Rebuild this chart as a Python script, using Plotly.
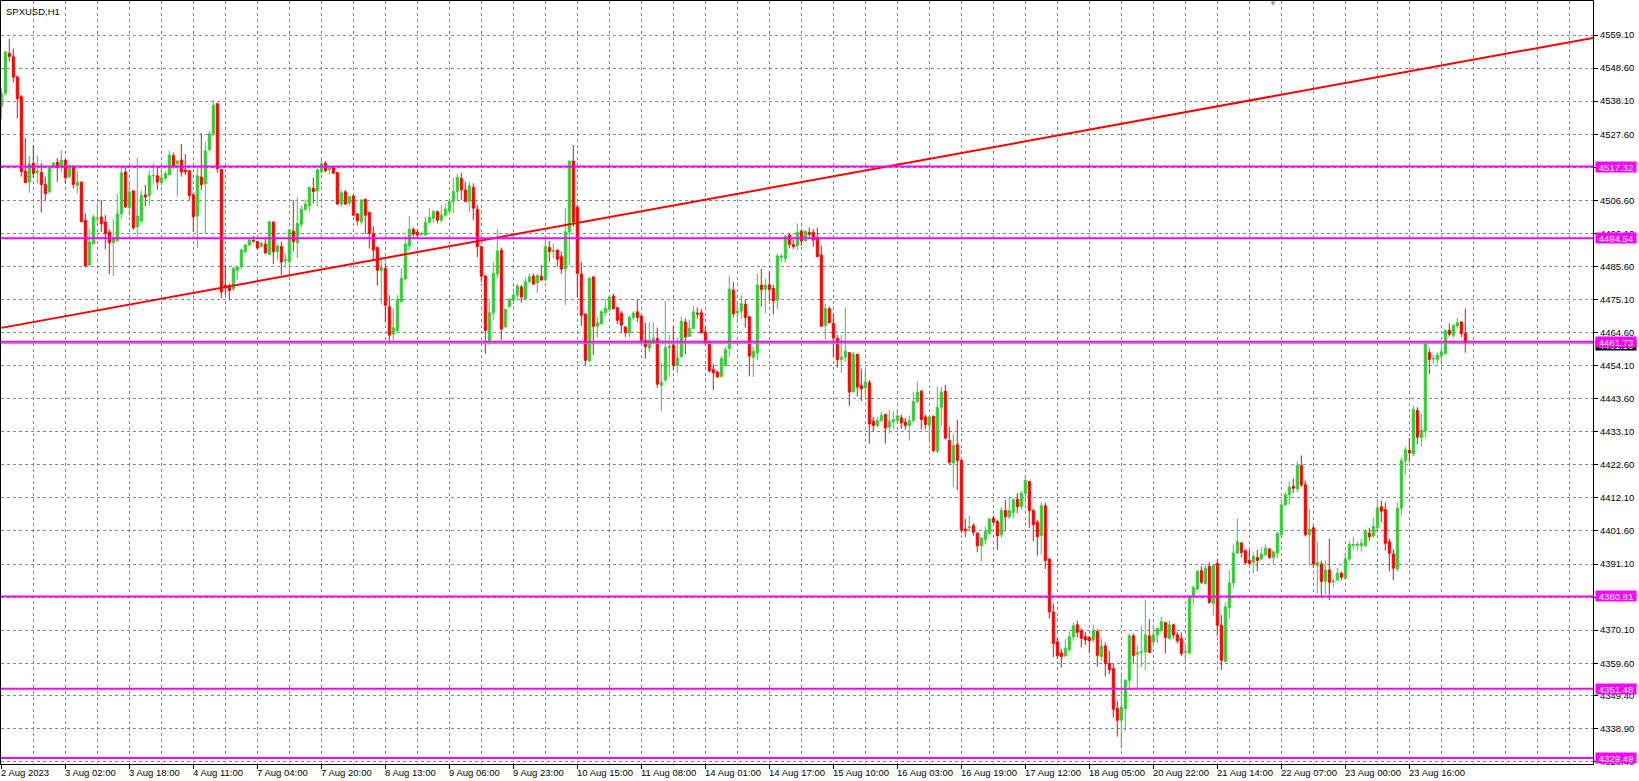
import plotly.graph_objects as go

# SPXUSD H1 bars (oldest first)
opens = [
    4536.4, 4540.6, 4553.2, 4552.2, 4545.8, 4539.5, 4515.9, 4512.4, 4518.4, 4515.4,
    4515.5, 4511.6, 4509.3, 4517.1, 4518.7, 4517.0, 4519.4, 4514.1, 4517.5, 4511.3,
    4512.4, 4500.3, 4486.0, 4492.8, 4500.8, 4501.3, 4499.7, 4496.5, 4493.1, 4493.8,
    4502.3, 4515.6, 4504.3, 4509.6, 4498.2, 4500.0, 4508.3, 4508.1, 4514.4, 4514.4,
    4512.2, 4513.5, 4514.7, 4520.8, 4518.2, 4519.4, 4516.2, 4516.0, 4508.4, 4501.7,
    4514.0, 4511.9, 4522.6, 4527.5, 4537.3, 4516.4, 4479.6, 4479.5, 4478.5, 4484.4,
    4485.5, 4490.3, 4492.4, 4493.9, 4493.5, 4491.9, 4492.7, 4489.5, 4499.7, 4490.3,
    4491.9, 4487.4, 4487.1, 4496.8, 4493.1, 4499.0, 4503.7, 4504.9, 4510.4, 4509.6,
    4515.7, 4518.4, 4516.3, 4517.1, 4515.4, 4505.4, 4509.3, 4505.7, 4508.0, 4502.3,
    4499.8, 4506.9, 4502.7, 4496.1, 4491.6, 4484.4, 4485.0, 4472.8, 4464.1, 4465.3,
    4474.4, 4481.6, 4492.1, 4497.4, 4496.4, 4495.8, 4495.6, 4499.6, 4500.9, 4503.0,
    4500.3, 4501.9, 4503.2, 4506.2, 4509.4, 4513.6, 4509.9, 4506.2, 4510.7, 4503.7,
    4491.9, 4482.6, 4461.9, 4470.9, 4483.2, 4490.8, 4466.4, 4472.8, 4474.9, 4476.5,
    4479.1, 4475.4, 4480.7, 4482.5, 4480.4, 4482.5, 4481.3, 4491.6, 4490.4, 4490.8,
    4488.7, 4484.8, 4496.6, 4519.1, 4504.4, 4483.2, 4470.5, 4455.6, 4482.3, 4466.6,
    4467.3, 4470.9, 4471.9, 4476.2, 4472.5, 4470.7, 4466.4, 4464.5, 4469.4, 4471.2,
    4469.8, 4462.2, 4459.7, 4461.6, 4462.7, 4447.8, 4449.5, 4459.9, 4460.6, 4454.2,
    4456.9, 4468.0, 4463.4, 4465.9, 4470.8, 4470.9, 4464.8, 4461.8, 4452.9, 4452.1,
    4450.7, 4454.2, 4459.5, 4478.1, 4470.9, 4471.4, 4473.6, 4469.6, 4456.8, 4458.1,
    4479.7, 4478.4, 4479.7, 4478.6, 4474.9, 4488.5, 4488.1, 4495.6, 4492.5, 4492.2,
    4496.8, 4493.7, 4496.4, 4496.4, 4494.8, 4489.2, 4466.9, 4472.2, 4467.5, 4462.7,
    4456.1, 4456.8, 4458.2, 4445.9, 4457.7, 4447.8, 4447.1, 4448.7, 4436.5, 4435.1,
    4436.7, 4438.6, 4434.6, 4436.4, 4436.7, 4437.5, 4436.2, 4435.1, 4436.7, 4442.7,
    4445.9, 4437.8, 4435.1, 4438.1, 4426.9, 4440.9, 4446.0, 4430.3, 4423.2, 4429.0,
    4424.0, 4402.2, 4402.6, 4403.3, 4400.9, 4396.9, 4398.8, 4400.8, 4405.7, 4404.6,
    4400.4, 4408.1, 4406.1, 4407.5, 4411.6, 4409.3, 4413.6, 4417.3, 4408.1, 4404.4,
    4400.1, 4409.6, 4392.7, 4375.9, 4366.4, 4362.9, 4361.9, 4363.8, 4368.0, 4371.8,
    4369.9, 4368.0, 4367.8, 4367.0, 4369.7, 4361.7, 4365.1, 4359.5, 4357.9, 4345.2,
    4341.5, 4345.2, 4354.2, 4368.3, 4362.5, 4363.1, 4363.2, 4368.3, 4366.4, 4368.6,
    4369.9, 4372.5, 4367.4, 4371.8, 4368.6, 4367.4, 4363.1, 4362.8, 4380.8, 4383.1,
    4389.0, 4384.9, 4390.3, 4378.6, 4391.3, 4371.7, 4360.1, 4377.3, 4385.1, 4394.6,
    4397.8, 4395.3, 4392.2, 4391.6, 4393.2, 4392.7, 4394.1, 4395.9, 4393.2, 4394.6,
    4400.4, 4409.9, 4413.2, 4415.8, 4415.0, 4422.4, 4416.3, 4400.4, 4402.6, 4390.6,
    4391.1, 4385.6, 4389.2, 4385.5, 4386.0, 4388.2, 4386.6, 4392.7, 4397.0, 4397.0,
    4396.9, 4396.9, 4400.9, 4400.1, 4402.6, 4409.3, 4408.4, 4398.2, 4394.3, 4389.5,
    4408.8, 4423.9, 4427.2, 4426.1, 4439.9, 4431.2, 4433.5, 4458.2, 4456.2, 4456.1,
    4457.2, 4457.9, 4465.3, 4463.8, 4466.7, 4468.0, 4464.3,
]
highs = [
    4542.2, 4553.9, 4557.9, 4554.8, 4546.2, 4540.1, 4526.4, 4520.7, 4524.2, 4520.7,
    4518.4, 4514.1, 4517.5, 4518.9, 4520.0, 4522.6, 4519.4, 4518.2, 4517.5, 4515.9,
    4512.4, 4502.5, 4497.5, 4502.1, 4505.9, 4506.7, 4501.9, 4497.4, 4500.6, 4508.6,
    4517.3, 4517.5, 4512.6, 4509.9, 4520.1, 4509.7, 4511.5, 4516.0, 4518.4, 4517.3,
    4517.0, 4516.0, 4522.3, 4521.8, 4519.4, 4524.5, 4521.3, 4516.0, 4509.0, 4517.6,
    4527.9, 4525.2, 4528.7, 4538.5, 4537.3, 4516.7, 4486.0, 4480.2, 4485.5, 4485.7,
    4491.3, 4492.7, 4494.3, 4495.3, 4493.7, 4493.5, 4494.7, 4500.1, 4499.9, 4492.7,
    4493.5, 4489.7, 4497.4, 4506.7, 4507.6, 4505.1, 4506.9, 4511.0, 4513.9, 4516.8,
    4520.0, 4519.1, 4517.3, 4517.5, 4515.4, 4509.9, 4509.9, 4508.0, 4508.3, 4502.5,
    4507.0, 4507.2, 4503.0, 4498.4, 4491.9, 4488.1, 4486.6, 4476.5, 4472.2, 4476.5,
    4485.0, 4495.4, 4501.6, 4498.0, 4497.4, 4496.6, 4501.4, 4504.1, 4503.5, 4503.3,
    4505.1, 4505.6, 4507.2, 4513.6, 4515.2, 4515.4, 4512.5, 4512.5, 4512.0, 4505.1,
    4491.9, 4482.8, 4474.7, 4487.1, 4497.5, 4491.6, 4472.2, 4475.6, 4477.9, 4480.0,
    4479.7, 4482.1, 4483.2, 4483.4, 4483.2, 4486.0, 4495.3, 4493.7, 4492.9, 4491.0,
    4490.3, 4504.1, 4519.1, 4524.2, 4504.8, 4487.1, 4470.6, 4482.3, 4482.3, 4469.6,
    4471.9, 4475.4, 4476.5, 4477.0, 4472.8, 4471.4, 4466.6, 4470.1, 4471.4, 4475.2,
    4470.1, 4467.7, 4467.8, 4467.8, 4466.2, 4455.1, 4474.6, 4463.8, 4466.6, 4463.0,
    4469.8, 4469.1, 4468.8, 4473.1, 4472.6, 4472.2, 4466.4, 4462.2, 4454.7, 4452.6,
    4457.1, 4460.0, 4482.6, 4480.7, 4474.4, 4476.5, 4475.1, 4469.8, 4460.0, 4483.2,
    4484.9, 4481.8, 4484.1, 4479.7, 4489.7, 4489.7, 4495.6, 4496.1, 4494.0, 4499.3,
    4497.2, 4496.9, 4498.0, 4497.5, 4498.0, 4492.1, 4473.8, 4472.8, 4470.6, 4463.8,
    4463.8, 4472.6, 4458.4, 4458.4, 4457.9, 4453.1, 4452.8, 4449.6, 4437.8, 4437.8,
    4439.4, 4438.6, 4440.1, 4439.6, 4440.2, 4438.6, 4437.5, 4438.3, 4445.9, 4449.1,
    4446.5, 4438.6, 4438.1, 4438.1, 4447.5, 4447.3, 4448.0, 4434.6, 4432.5, 4437.0,
    4424.0, 4405.4, 4406.5, 4404.0, 4401.2, 4399.6, 4403.0, 4405.7, 4406.5, 4405.1,
    4409.1, 4411.5, 4412.5, 4412.1, 4413.6, 4414.2, 4419.2, 4417.6, 4408.6, 4405.1,
    4410.7, 4410.7, 4392.9, 4378.6, 4367.8, 4364.1, 4367.2, 4369.6, 4372.5, 4373.1,
    4370.6, 4369.4, 4368.3, 4371.8, 4370.4, 4367.8, 4366.2, 4363.5, 4359.5, 4347.6,
    4355.9, 4354.5, 4369.0, 4369.0, 4365.4, 4371.5, 4379.8, 4373.6, 4371.8, 4370.9,
    4374.3, 4372.8, 4373.1, 4372.2, 4369.4, 4369.4, 4365.9, 4381.3, 4384.2, 4389.2,
    4390.6, 4391.1, 4391.6, 4391.1, 4392.7, 4375.0, 4378.9, 4389.2, 4397.3, 4405.7,
    4398.0, 4395.9, 4395.6, 4394.8, 4395.6, 4396.4, 4397.3, 4396.1, 4395.3, 4401.5,
    4411.3, 4413.9, 4417.4, 4418.3, 4423.7, 4425.6, 4417.6, 4408.6, 4403.3, 4398.3,
    4392.2, 4392.2, 4399.1, 4386.6, 4389.8, 4388.7, 4394.8, 4398.5, 4399.8, 4398.3,
    4399.1, 4402.2, 4402.6, 4405.9, 4411.5, 4411.3, 4410.7, 4399.1, 4395.9, 4410.7,
    4425.0, 4428.4, 4431.2, 4441.5, 4440.9, 4438.8, 4461.4, 4459.5, 4457.4, 4458.4,
    4460.3, 4465.6, 4467.5, 4467.3, 4469.3, 4468.2, 4472.2,
]
lows = [
    4532.4, 4539.8, 4550.7, 4544.0, 4532.6, 4514.1, 4512.2, 4509.0, 4513.6, 4512.0,
    4502.7, 4506.7, 4508.8, 4516.5, 4512.5, 4515.4, 4512.0, 4513.6, 4510.4, 4508.8,
    4499.8, 4485.3, 4486.0, 4492.8, 4499.3, 4496.6, 4491.1, 4483.2, 4482.6, 4493.5,
    4500.8, 4504.1, 4501.7, 4497.2, 4494.3, 4499.3, 4504.6, 4504.9, 4511.6, 4509.9,
    4511.3, 4513.0, 4514.7, 4516.6, 4507.8, 4514.1, 4514.7, 4506.7, 4496.6, 4491.5,
    4509.9, 4496.1, 4522.5, 4527.1, 4515.4, 4475.5, 4476.5, 4475.0, 4477.8, 4481.3,
    4484.6, 4489.7, 4492.1, 4493.1, 4490.8, 4491.7, 4489.5, 4489.2, 4486.3, 4487.6,
    4482.8, 4485.3, 4482.8, 4490.3, 4488.2, 4497.9, 4503.2, 4503.0, 4505.6, 4504.6,
    4515.2, 4515.5, 4514.9, 4515.0, 4505.1, 4504.6, 4505.1, 4504.8, 4501.6, 4498.6,
    4498.8, 4495.9, 4491.3, 4487.6, 4479.5, 4473.6, 4467.8, 4461.3, 4461.4, 4464.8,
    4474.2, 4481.3, 4490.8, 4495.0, 4494.8, 4495.3, 4495.3, 4499.3, 4499.3, 4499.3,
    4499.5, 4501.4, 4502.3, 4502.5, 4506.7, 4506.7, 4506.2, 4502.7, 4500.3, 4488.5,
    4480.7, 4457.9, 4460.6, 4468.5, 4481.8, 4462.2, 4466.2, 4472.5, 4474.7, 4475.4,
    4474.1, 4475.1, 4480.4, 4479.8, 4477.2, 4481.1, 4481.1, 4487.1, 4488.2, 4485.5,
    4483.2, 4473.3, 4486.0, 4498.2, 4475.9, 4466.7, 4454.2, 4455.3, 4457.4, 4463.0,
    4467.3, 4469.6, 4471.2, 4471.9, 4467.3, 4464.6, 4463.2, 4463.2, 4468.5, 4468.0,
    4461.1, 4456.3, 4458.5, 4461.1, 4447.1, 4439.7, 4448.9, 4450.5, 4452.6, 4451.8,
    4456.6, 4457.7, 4463.2, 4465.6, 4469.1, 4464.3, 4460.6, 4452.1, 4446.3, 4450.3,
    4450.3, 4453.9, 4456.9, 4469.4, 4467.7, 4469.0, 4466.2, 4450.7, 4450.5, 4455.8,
    4472.8, 4470.8, 4474.7, 4470.3, 4472.0, 4487.1, 4486.8, 4491.3, 4491.1, 4490.8,
    4492.1, 4493.7, 4495.0, 4491.9, 4488.7, 4466.4, 4462.4, 4467.5, 4456.9, 4453.5,
    4451.8, 4455.3, 4441.3, 4445.4, 4444.3, 4442.9, 4443.3, 4429.3, 4433.3, 4434.4,
    4436.2, 4429.3, 4432.5, 4433.8, 4435.6, 4434.0, 4433.8, 4430.3, 4435.9, 4442.2,
    4433.8, 4433.8, 4429.5, 4426.6, 4426.3, 4434.9, 4430.6, 4422.7, 4415.5, 4414.6,
    4400.9, 4399.6, 4401.7, 4400.1, 4394.8, 4391.9, 4397.5, 4400.4, 4404.0, 4395.6,
    4399.4, 4401.7, 4405.4, 4405.7, 4407.2, 4408.1, 4410.4, 4402.6, 4398.3, 4393.8,
    4394.1, 4389.5, 4373.8, 4361.4, 4360.9, 4358.2, 4361.7, 4363.5, 4366.7, 4367.8,
    4364.6, 4365.4, 4362.7, 4366.2, 4358.5, 4360.3, 4355.4, 4356.1, 4342.3, 4336.3,
    4332.6, 4338.1, 4351.0, 4359.5, 4351.3, 4358.4, 4357.4, 4363.0, 4365.6, 4365.9,
    4369.7, 4362.7, 4367.2, 4367.5, 4365.9, 4361.9, 4359.8, 4362.5, 4378.2, 4382.8,
    4384.7, 4384.5, 4378.4, 4374.7, 4368.3, 4357.5, 4359.8, 4373.8, 4383.4, 4394.3,
    4393.2, 4391.1, 4391.1, 4388.1, 4388.8, 4392.4, 4393.7, 4392.7, 4391.1, 4392.9,
    4400.1, 4409.5, 4409.9, 4413.6, 4413.9, 4415.5, 4399.8, 4390.6, 4390.0, 4381.6,
    4380.7, 4381.6, 4379.6, 4383.7, 4385.8, 4386.0, 4386.3, 4391.9, 4395.9, 4395.3,
    4395.1, 4396.6, 4398.5, 4399.4, 4402.2, 4404.4, 4395.3, 4388.8, 4386.0, 4388.8,
    4406.5, 4419.5, 4423.5, 4425.4, 4429.1, 4428.4, 4431.2, 4451.3, 4454.5, 4454.5,
    4454.5, 4457.7, 4463.4, 4463.0, 4465.9, 4463.0, 4458.2,
]
closes = [
    4540.6, 4553.7, 4552.3, 4545.7, 4538.9, 4515.7, 4512.2, 4518.2, 4515.1, 4515.9,
    4511.6, 4508.7, 4517.2, 4518.4, 4517.0, 4519.4, 4513.8, 4517.3, 4511.6, 4512.4,
    4499.8, 4485.8, 4493.4, 4501.3, 4500.9, 4499.2, 4496.0, 4493.1, 4494.3, 4502.3,
    4515.3, 4504.5, 4509.3, 4497.9, 4501.6, 4508.2, 4507.7, 4514.4, 4514.5, 4512.4,
    4513.7, 4515.1, 4521.0, 4517.6, 4519.1, 4515.6, 4515.6, 4508.1, 4501.4, 4514.4,
    4511.6, 4522.3, 4527.7, 4536.8, 4516.7, 4477.5, 4478.8, 4478.0, 4485.0, 4485.5,
    4490.8, 4492.4, 4494.0, 4493.7, 4491.5, 4492.9, 4489.9, 4499.8, 4490.3, 4492.1,
    4487.0, 4487.9, 4497.2, 4493.5, 4499.3, 4503.8, 4505.4, 4510.7, 4509.4, 4516.3,
    4518.2, 4516.0, 4517.0, 4515.2, 4505.4, 4509.0, 4505.4, 4507.8, 4501.9, 4500.1,
    4506.7, 4501.9, 4496.1, 4490.8, 4484.4, 4485.2, 4473.3, 4463.8, 4466.1, 4475.1,
    4481.8, 4492.7, 4497.4, 4495.9, 4495.6, 4496.0, 4499.6, 4501.2, 4503.0, 4500.3,
    4501.9, 4503.8, 4506.2, 4509.4, 4513.9, 4509.9, 4506.2, 4511.2, 4504.1, 4491.9,
    4482.5, 4465.3, 4470.9, 4483.4, 4490.5, 4465.7, 4472.0, 4475.1, 4476.5, 4479.4,
    4475.9, 4480.7, 4482.3, 4480.0, 4482.8, 4481.3, 4491.9, 4490.3, 4490.6, 4487.9,
    4484.8, 4496.6, 4519.1, 4499.8, 4483.4, 4470.1, 4455.8, 4481.8, 4466.6, 4467.7,
    4471.2, 4472.3, 4475.9, 4472.2, 4468.5, 4467.0, 4464.6, 4469.4, 4470.8, 4469.4,
    4462.2, 4460.1, 4462.2, 4462.7, 4448.2, 4448.9, 4459.8, 4460.2, 4454.2, 4456.6,
    4468.2, 4463.2, 4465.9, 4471.2, 4470.5, 4464.5, 4461.1, 4452.4, 4451.8, 4450.5,
    4456.3, 4459.2, 4478.4, 4470.6, 4471.4, 4473.8, 4469.4, 4457.1, 4458.7, 4479.7,
    4478.3, 4479.7, 4478.3, 4474.7, 4488.9, 4488.9, 4495.2, 4492.6, 4491.9, 4496.4,
    4493.7, 4496.8, 4495.8, 4494.0, 4488.7, 4466.6, 4472.2, 4467.7, 4462.9, 4456.0,
    4456.8, 4458.7, 4445.7, 4457.7, 4447.3, 4446.8, 4448.9, 4435.6, 4435.1, 4436.7,
    4438.3, 4434.3, 4436.4, 4437.0, 4438.1, 4435.9, 4435.1, 4436.7, 4442.7, 4445.7,
    4437.0, 4435.4, 4437.8, 4427.1, 4440.9, 4445.7, 4431.1, 4423.4, 4428.7, 4424.0,
    4401.9, 4401.7, 4402.9, 4401.2, 4396.9, 4399.4, 4401.5, 4405.4, 4404.4, 4400.1,
    4408.1, 4406.1, 4408.1, 4411.5, 4409.3, 4413.6, 4417.6, 4408.1, 4403.6, 4399.8,
    4409.6, 4392.2, 4375.9, 4365.9, 4362.0, 4361.7, 4364.4, 4368.0, 4371.5, 4369.4,
    4367.5, 4367.0, 4366.7, 4369.9, 4362.1, 4365.1, 4359.6, 4357.5, 4345.0, 4341.5,
    4345.7, 4354.2, 4368.3, 4362.1, 4363.0, 4363.3, 4368.6, 4363.0, 4368.6, 4370.6,
    4372.8, 4367.8, 4371.8, 4368.6, 4366.7, 4362.7, 4363.3, 4381.0, 4383.7, 4388.8,
    4385.3, 4389.8, 4378.9, 4390.6, 4371.7, 4360.5, 4377.5, 4385.1, 4394.6, 4398.2,
    4394.8, 4391.6, 4391.3, 4393.5, 4392.2, 4394.3, 4396.1, 4393.2, 4395.0, 4400.8,
    4409.9, 4413.2, 4415.5, 4415.2, 4422.4, 4416.3, 4400.4, 4402.2, 4391.1, 4391.6,
    4385.6, 4389.2, 4385.3, 4385.7, 4388.2, 4386.9, 4392.7, 4397.3, 4397.3, 4397.3,
    4397.7, 4401.7, 4399.8, 4403.0, 4408.9, 4407.9, 4397.7, 4394.5, 4389.8, 4408.9,
    4423.9, 4427.4, 4426.4, 4440.2, 4431.4, 4433.7, 4461.1, 4456.1, 4456.4, 4457.4,
    4458.5, 4465.3, 4464.1, 4466.9, 4467.8, 4464.3, 4461.1,
]

# time labels, one every 16 bars
time_labels = [
    "2 Aug 2023", "3 Aug 02:00", "3 Aug 18:00", "4 Aug 11:00", "7 Aug 04:00",
    "7 Aug 20:00", "8 Aug 13:00", "9 Aug 06:00", "9 Aug 23:00", "10 Aug 15:00",
    "11 Aug 08:00", "14 Aug 01:00", "14 Aug 17:00", "15 Aug 10:00", "16 Aug 03:00",
    "16 Aug 19:00", "17 Aug 12:00", "18 Aug 05:00", "20 Aug 22:00", "21 Aug 14:00",
    "22 Aug 07:00", "23 Aug 00:00", "23 Aug 16:00",
]
label_step = 16

price_labels = [
    "4559.10", "4548.60", "4538.10", "4527.60", "4517.10", "4506.60", "4496.10",
    "4485.60", "4475.10", "4464.60", "4454.10", "4443.60", "4433.10", "4422.60",
    "4412.10", "4401.60", "4391.10", "4380.60", "4370.10", "4359.60", "4349.40",
    "4338.90", "4328.40",
]

# horizontal levels and trendline drawn by the user
levels = [4517.32, 4494.54, 4461.73, 4380.81, 4351.48, 4329.49]
trend_x = [0, 398]
trend_y = [4466.1, 4558.2]

GRID = "#778899"
MAGENTA = "#FF00FF"
FONT = "Liberation Sans"
bars = list(range(len(closes)))

fig = go.Figure()
fig.add_trace(go.Candlestick(
    x=bars, open=opens, high=highs, low=lows, close=closes,
    increasing=dict(line=dict(color="#32CD32", width=1), fillcolor="#32CD32"),
    decreasing=dict(line=dict(color="#FF0000", width=1), fillcolor="#FF0000"),
    whiskerwidth=0, showlegend=False, hoverinfo="skip",
))
fig.add_trace(go.Scatter(x=trend_x, y=trend_y, mode="lines",
                         line=dict(color="#FF0000", width=2), showlegend=False,
                         hoverinfo="skip", cliponaxis=True))

# bid line at last close
fig.add_shape(type="line", xref="paper", x0=0, x1=1, y0=closes[-1], y1=closes[-1],
              line=dict(color="#8C96A0", width=1))
for lv in levels:
    fig.add_shape(type="line", xref="paper", x0=0, x1=1, y0=lv, y1=lv,
                  line=dict(color=MAGENTA, width=2))

# bid label (mostly covered), then level labels
fig.add_annotation(xref="paper", x=1, xanchor="left", xshift=2, y=closes[-1], yanchor="middle",
                   yshift=-1, text="%.2f" % closes[-1], showarrow=False, bgcolor="#000000",
                   font=dict(family=FONT, size=9.5, color="white"),
                   width=40, height=10, borderpad=0)
for lv in levels:
    fig.add_annotation(xref="paper", x=1, xanchor="left", xshift=2, y=lv, yanchor="middle",
                       text="%.2f" % lv, showarrow=False, bgcolor=MAGENTA,
                       font=dict(family=FONT, size=9.5, color="white"),
                       width=40, height=10, borderpad=0)

for i, lab in enumerate(time_labels):
    fig.add_annotation(x=i * label_step, xanchor="left", xshift=-2, yref="paper", y=0,
                       yanchor="top", yshift=-1, text=lab, showarrow=False,
                       font=dict(family=FONT, size=9.5, color="black"))

fig.add_annotation(xref="paper", yref="paper", x=0.002, y=1, xanchor="left", yanchor="top",
                   yshift=-3, text="SPXUSD,H1", showarrow=False,
                   font=dict(family=FONT, size=9.5, color="black"))
fig.add_annotation(xref="paper", yref="paper", x=0.799, y=1, xanchor="center", yanchor="bottom",
                   yshift=-9, text="▼", showarrow=False,
                   font=dict(family=FONT, size=8, color="#8C96A0"))

fig.update_layout(
    width=1639, height=781,
    margin=dict(l=1, r=46, t=1, b=17),
    paper_bgcolor="white", plot_bgcolor="white",
    boxgap=0.25,
    xaxis=dict(
        range=[-0.075, 397.925], rangeslider=dict(visible=False),
        tickmode="array", tickvals=[i * label_step for i in range(len(time_labels))],
        showticklabels=False, ticks="outside", ticklen=4, tickcolor="black",
        showgrid=True, gridcolor=GRID, griddash="3px,3px", gridwidth=1,
        minor=dict(tick0=0, dtick=8, showgrid=True, gridcolor=GRID, griddash="3px,3px", ticks=""),
        showline=True, linecolor="black", linewidth=1, mirror=True, zeroline=False,
    ),
    yaxis=dict(
        side="right", range=[4327.6, 4569.9],
        tickmode="array", tickvals=[float(v) for v in price_labels], ticktext=price_labels,
        ticks="outside", ticklen=4, tickcolor="black",
        tickfont=dict(family=FONT, size=9.5, color="black"),
        showgrid=True, gridcolor=GRID, griddash="3px,3px", gridwidth=1,
        showline=True, linecolor="black", linewidth=1, mirror=True, zeroline=False,
    ),
)

# drop the default page margin so the figure sits at the window's top-left corner
fig.write_html("out.html", config={"displayModeBar": False},
               post_script="document.body.style.margin='0';document.body.style.overflow='hidden';")
